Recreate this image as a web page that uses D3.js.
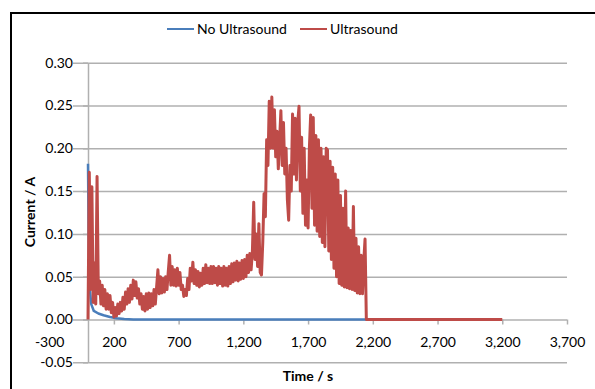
<!DOCTYPE html>
<html>
<head>
<meta charset="utf-8">
<script src="https://cdn.jsdelivr.net/npm/d3@7/dist/d3.min.js"></script>
<style>
  body { margin: 0; background: #fff; }
  svg { display: block; }
  text { font-family: Lato, "Open Sans", sans-serif; fill: #000; }
</style>
</head>
<body>
<div id="chart"></div>
<script>
// axis ticks
const xTicks = [-300, 200, 700, 1200, 1700, 2200, 2700, 3200, 3700]
const yTicks = [-0.05, 0, 0.05, 0.10, 0.15, 0.20, 0.25, 0.30]
const seriesNames = ['No Ultrasound', 'Ultrasound']

// No Ultrasound: fast decay, then flat zero
const blueTimes = [0, 5, 12, 25, 45, 80, 120, 170, 220, 280, 350, 2150]
const blueValues = [0.182, 0.10, 0.04, 0.018, 0.010, 0.007, 0.005, 0.003, 0.0015, 0.0005, 0, 0]

// Ultrasound: sampled every 10 s from t = 0 to 2140 s
const redStep = 10
const redValues = [
  0.000, 0.172, 0.035, 0.155, 0.020, 0.066, 0.018, 0.167, 0.030, 0.045, // 0-90
  0.018, 0.040, 0.016, 0.035, 0.012, 0.030, 0.012, 0.028, 0.008, 0.020, // 100-190
  0.003, 0.014, 0.004, 0.018, 0.007, 0.020, 0.010, 0.026, 0.012, 0.032, // 200-290
  0.018, 0.036, 0.020, 0.040, 0.024, 0.046, 0.028, 0.044, 0.025, 0.036, // 300-390
  0.018, 0.030, 0.012, 0.027, 0.010, 0.030, 0.012, 0.031, 0.014, 0.030, // 400-490
  0.016, 0.035, 0.018, 0.038, 0.058, 0.030, 0.050, 0.031, 0.048, 0.032, // 500-590
  0.050, 0.035, 0.056, 0.075, 0.040, 0.062, 0.040, 0.058, 0.039, 0.060, // 600-690
  0.040, 0.055, 0.035, 0.040, 0.027, 0.035, 0.028, 0.048, 0.035, 0.060, // 700-790
  0.045, 0.067, 0.042, 0.058, 0.040, 0.056, 0.038, 0.054, 0.040, 0.060, // 800-890
  0.042, 0.064, 0.043, 0.060, 0.042, 0.062, 0.042, 0.062, 0.043, 0.060, // 900-990
  0.040, 0.062, 0.042, 0.060, 0.039, 0.062, 0.040, 0.060, 0.039, 0.062, // 1000-1090
  0.042, 0.065, 0.044, 0.066, 0.046, 0.068, 0.045, 0.066, 0.047, 0.069, // 1100-1190
  0.048, 0.070, 0.050, 0.075, 0.055, 0.077, 0.058, 0.080, 0.137, 0.070, // 1200-1290
  0.100, 0.062, 0.112, 0.055, 0.052, 0.090, 0.147, 0.120, 0.210, 0.180, // 1300-1390
  0.255, 0.200, 0.260, 0.200, 0.245, 0.190, 0.220, 0.176, 0.210, 0.244, // 1400-1490
  0.180, 0.230, 0.170, 0.200, 0.140, 0.116, 0.180, 0.150, 0.240, 0.170, // 1500-1590
  0.235, 0.163, 0.230, 0.249, 0.150, 0.213, 0.124, 0.200, 0.110, 0.163, // 1600-1690
  0.107, 0.200, 0.239, 0.130, 0.236, 0.110, 0.215, 0.103, 0.210, 0.097, // 1700-1790
  0.200, 0.090, 0.190, 0.085, 0.200, 0.198, 0.080, 0.185, 0.070, 0.178, // 1800-1890
  0.060, 0.170, 0.050, 0.163, 0.042, 0.145, 0.040, 0.130, 0.038, 0.150, // 1900-1990
  0.037, 0.107, 0.036, 0.104, 0.035, 0.132, 0.034, 0.095, 0.031, 0.085, // 2000-2090
  0.030, 0.075, 0.030, 0.068, 0.094                                     // 2100-2140
]
const redTailTimes = [2150, 3200]
const redTailValues = [0, 0]

const width = 595, height = 389

const svg = d3.select('#chart').append('svg')
  .attr('width', width)
  .attr('height', height)

// chart border
svg.append('rect')
  .attr('x', 11).attr('y', 13)
  .attr('width', 700).attr('height', 500)
  .attr('fill', '#fff')
  .attr('stroke', '#000')
  .attr('stroke-width', 2)

const x = d3.scaleLinear().domain([0, 3700]).range([88, 567])
const y = d3.scaleLinear().domain([-0.05, 0.30]).range([362.3, 62.7])
const x0 = x(-300), x1 = x(3700)

const gridColor = '#b0b0b0'
const locale = d3.formatLocale({ decimal: '.', thousands: ',', grouping: [3], currency: ['', ''], minus: '-' })

// gridlines
svg.append('g')
  .attr('transform', `translate(${x0},0)`)
  .call(d3.axisLeft(y).tickValues(yTicks).tickSize(-(x1 - x0)).tickFormat(''))
  .call(g => g.select('.domain').remove())
  .call(g => g.selectAll('line').attr('stroke', gridColor).attr('stroke-width', 1.5))

// x axis (crosses at 0)
const xAxis = svg.append('g')
  .attr('transform', `translate(0,${y(0)})`)
  .call(d3.axisBottom(x).tickValues(xTicks).tickSize(5).tickSizeOuter(0).tickPadding(12.5)
    .tickFormat(locale.format(',')))
xAxis.select('.domain').remove()
xAxis.selectAll('line').attr('stroke', gridColor).attr('stroke-width', 1.5)
xAxis.selectAll('text').attr('font-size', 14).attr('font-family', null)

// y axis (crosses at t = 0)
const yAxis = svg.append('g')
  .attr('transform', `translate(${x(0)},0)`)
  .call(d3.axisLeft(y).tickValues(yTicks).tickSize(5).tickSizeOuter(0).tickPadding(10)
    .tickFormat(locale.format('.2f')))
yAxis.select('.domain').attr('stroke', gridColor).attr('stroke-width', 1.5)
yAxis.selectAll('line').attr('stroke', gridColor).attr('stroke-width', 1.5)
yAxis.selectAll('text').attr('font-size', 14).attr('font-family', null)

// white boxes behind the value labels, like the original
yAxis.selectAll('.tick').each(function () {
  const t = d3.select(this).select('text')
  const b = t.node().getBBox()
  d3.select(this).insert('rect', 'text')
    .attr('x', b.x - 1).attr('y', b.y)
    .attr('width', b.width + 1).attr('height', b.height)
    .attr('fill', '#fff')
})

// series
const blueData = blueTimes.map((t, i) => [t, blueValues[i]])
const redData = redValues.map((v, i) => [i * redStep, v])
  .concat(redTailTimes.map((t, i) => [t, redTailValues[i]]))

const line = d3.line().x(d => x(d[0])).y(d => y(d[1]))

svg.append('path')
  .datum(blueData)
  .attr('d', line)
  .attr('fill', 'none')
  .attr('stroke', '#4a7ebb')
  .attr('stroke-width', 2.5)
  .attr('stroke-linejoin', 'round')

svg.append('path')
  .datum(redData)
  .attr('d', line)
  .attr('fill', 'none')
  .attr('stroke', '#be4b48')
  .attr('stroke-width', 3)
  .attr('stroke-linejoin', 'round')

// axis titles
svg.append('text')
  .attr('x', 308).attr('y', 381)
  .attr('text-anchor', 'middle')
  .attr('font-size', 14).attr('font-weight', 'bold')
  .text('Time / s')

svg.append('text')
  .attr('transform', 'translate(35,212) rotate(-90)')
  .attr('text-anchor', 'middle')
  .attr('font-size', 14).attr('font-weight', 'bold')
  .text('Current / A')

// legend
const legend = svg.append('g')
const legendItems = [
  { name: seriesNames[0], color: '#4a7ebb', x0: 167 },
  { name: seriesNames[1], color: '#be4b48', x0: 300 }
]
legendItems.forEach(d => {
  legend.append('line')
    .attr('x1', d.x0).attr('x2', d.x0 + 27)
    .attr('y1', 29).attr('y2', 29)
    .attr('stroke', d.color).attr('stroke-width', 2)
  legend.append('text')
    .attr('x', d.x0 + 30).attr('y', 34)
    .attr('font-size', 14)
    .text(d.name)
})
</script>
</body>
</html>
